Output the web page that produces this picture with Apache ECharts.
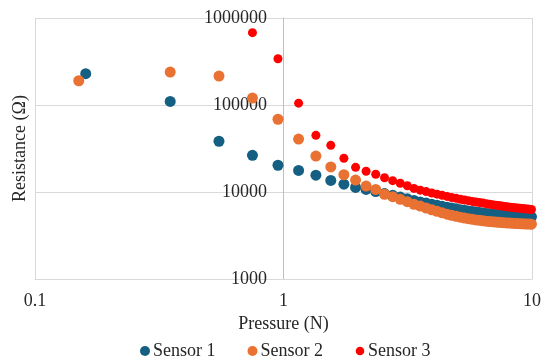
<!DOCTYPE html>
<html>
<head>
<meta charset="utf-8">
<script src="https://cdn.jsdelivr.net/npm/echarts@6/dist/echarts.min.js"></script>
<style>html,body{margin:0;padding:0;background:#fff}#c{width:542px;height:356px}</style>
</head>
<body>
<div id="c"></div>
<script>
// Pressure (N) values
const pressure1 = [0.16,0.35,0.55,0.75,0.95,1.15,1.35,1.55,1.75,1.95,2.15,2.35,2.55,2.75,2.95,3.15,3.35,3.55,3.75,3.95,4.15,4.35,4.55,4.75,4.95,5.15,5.35,5.55,5.75,5.95,6.15,6.35,6.55,6.75,6.95,7.15,7.35,7.55,7.75,7.95,8.15,8.35,8.55,8.75,8.95,9.15,9.35,9.55,9.75,9.95];
const pressure2 = [0.15,0.35,0.55,0.75,0.95,1.15,1.35,1.55,1.75,1.95,2.15,2.35,2.55,2.75,2.95,3.15,3.35,3.55,3.75,3.95,4.15,4.35,4.55,4.75,4.95,5.15,5.35,5.55,5.75,5.95,6.15,6.35,6.55,6.75,6.95,7.15,7.35,7.55,7.75,7.95,8.15,8.35,8.55,8.75,8.95,9.15,9.35,9.55,9.75,9.95];
const pressure3 = [0.75,0.95,1.15,1.35,1.55,1.75,1.95,2.15,2.35,2.55,2.75,2.95,3.15,3.35,3.55,3.75,3.95,4.15,4.35,4.55,4.75,4.95,5.15,5.35,5.55,5.75,5.95,6.15,6.35,6.55,6.75,6.95,7.15,7.35,7.55,7.75,7.95,8.15,8.35,8.55,8.75,8.95,9.15,9.35,9.55,9.75,9.95];
// Resistance (Ω) values
const sensor1 = [229000,110000,38300,26400,20300,17700,15600,13600,12300,11300,10700,10100,9600,9150,8750,8350,8000,7700,7450,7230,7030,6850,6690,6540,6400,6270,6150,6050,5960,5880,5800,5730,5670,5610,5560,5510,5470,5430,5400,5370,5340,5320,5300,5280,5260,5240,5230,5210,5200,5180];
const sensor2 = [190000,239000,215000,120000,68600,40600,25900,19400,15800,13700,11700,10700,9420,8840,8240,7740,7230,6900,6550,6250,5990,5760,5560,5390,5250,5130,5020,4930,4850,4780,4720,4670,4620,4580,4540,4510,4480,4450,4430,4410,4390,4370,4350,4340,4320,4310,4300,4290,4280,4270];
const sensor3 = [678000,340000,105000,44800,34400,24400,19200,17300,16000,14600,13500,12600,11800,11000,10500,10100,9750,9450,9150,8900,8650,8450,8250,8100,7950,7800,7680,7560,7450,7340,7240,7150,7060,6980,6900,6830,6760,6700,6640,6590,6540,6490,6450,6410,6370,6340,6300];
const seriesNames = ['Sensor 1','Sensor 2','Sensor 3'];
const xTitle = 'Pressure (N)';
const yTitle = 'Resistance (Ω)';

const zip = (xs, ys) => xs.map((x, i) => [x, ys[i]]);
const font = 'Liberation Serif';
const txt = '#262626';
const fmt = v => String(Number(Number(v).toPrecision(6)));

const chart = echarts.init(document.getElementById('c'), null, {renderer: 'canvas'});
chart.setOption({
  animation: false,
  backgroundColor: '#fff',
  grid: {left: 35, right: 10, top: 18, bottom: 77, containLabel: false, outerBoundsMode: 'none'},
  xAxis: {
    type: 'log', logBase: 10, min: 0.1, max: 10,
    name: xTitle, nameLocation: 'middle', nameGap: 34,
    nameTextStyle: {fontFamily: font, fontSize: 18, color: txt},
    axisLine: {show: true, lineStyle: {color: '#D9D9D9', width: 1}},
    axisTick: {show: false},
    minorTick: {show: false},
    axisLabel: {fontFamily: font, fontSize: 18, color: txt, margin: 13, formatter: fmt},
    splitLine: {show: true, lineStyle: {color: '#D9D9D9', width: 1}}
  },
  yAxis: {
    type: 'log', logBase: 10, min: 1000, max: 1000000,
    position: 'left', offset: -248,
    name: yTitle, nameLocation: 'middle', nameGap: 254, nameRotate: 90,
    nameTextStyle: {fontFamily: font, fontSize: 18, color: txt},
    axisLine: {show: true, lineStyle: {color: '#BFBFBF', width: 1}},
    axisTick: {show: false},
    minorTick: {show: false},
    axisLabel: {fontFamily: font, fontSize: 18, color: txt, margin: 16, formatter: fmt},
    splitLine: {show: true, lineStyle: {color: '#D9D9D9', width: 1}}
  },
  legend: {
    left: 135, top: 337,
    itemWidth: 10, itemHeight: 10, itemGap: 32,
    textStyle: {fontFamily: font, fontSize: 18, color: txt, padding: [0, 0, 0, -2]},
    data: [
      {name: seriesNames[0], icon: 'circle'},
      {name: seriesNames[1], icon: 'circle'},
      {name: seriesNames[2], icon: "image://data:image/svg+xml;utf8,<svg xmlns='http://www.w3.org/2000/svg' width='10' height='10'><circle cx='5' cy='5' r='4.3' fill='%23FF0000'/></svg>"}
    ]
  },
  series: [
    {name: seriesNames[0], type: 'scatter', data: zip(pressure1, sensor1), symbolSize: 11, itemStyle: {color: '#156082', opacity: 1}},
    {name: seriesNames[1], type: 'scatter', data: zip(pressure2, sensor2), symbolSize: 11, itemStyle: {color: '#E97132', opacity: 1}},
    {name: seriesNames[2], type: 'scatter', data: zip(pressure3, sensor3), symbolSize: 9, itemStyle: {color: '#FF0000', opacity: 1}}
  ]
});
</script>
</body>
</html>
